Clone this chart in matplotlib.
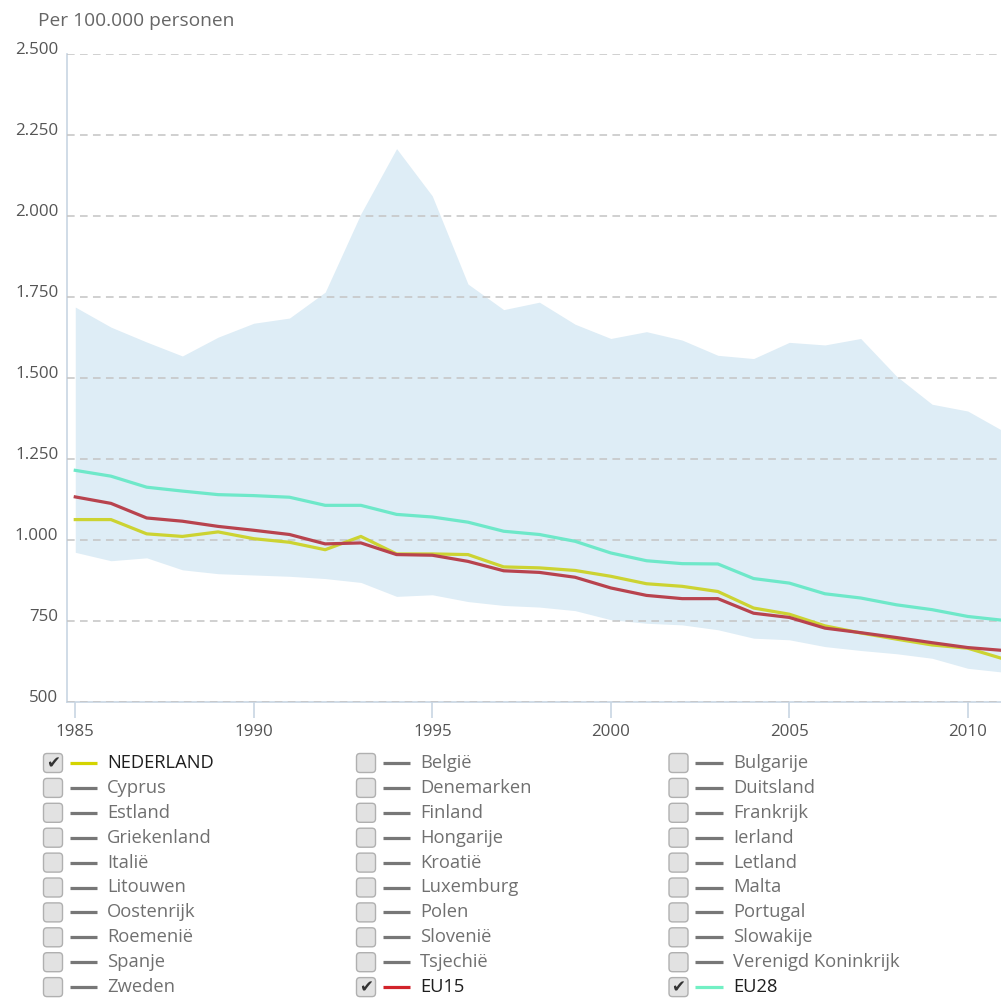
import matplotlib
matplotlib.use("Agg")
import matplotlib.pyplot as plt
from matplotlib.patches import FancyBboxPatch
from matplotlib.ticker import FuncFormatter, FixedLocator

years = list(range(1985, 2012))
band_max = [1719, 1657, 1611, 1568, 1626, 1669, 1685, 1765, 2007, 2208, 2062, 1790, 1711,
            1734, 1666, 1622, 1643, 1617, 1570, 1560, 1610, 1602, 1622, 1506, 1419, 1398, 1336]
band_min = [962, 936, 945, 908, 896, 892, 888, 881, 869, 826, 831, 810, 798,
            793, 782, 754, 743, 738, 723, 697, 692, 671, 659, 649, 635, 604, 592]
nederland = [1063, 1063, 1019, 1011, 1025, 1004, 993, 970, 1011, 957, 957, 955, 917,
             914, 906, 888, 865, 857, 841, 790, 771, 735, 713, 694, 676, 666, 633]
eu15 = [1133, 1113, 1068, 1058, 1042, 1030, 1017, 988, 991, 955, 953, 934, 905,
        900, 885, 852, 829, 819, 819, 774, 761, 728, 714, 699, 683, 668, 659]
eu28 = [1215, 1197, 1163, 1151, 1140, 1137, 1132, 1107, 1107, 1079, 1071, 1055, 1027,
        1017, 996, 960, 936, 927, 926, 881, 867, 834, 821, 800, 785, 764, 752]

y_ticks = [500, 750, 1000, 1250, 1500, 1750, 2000, 2250, 2500]
x_ticks = [1985, 1990, 1995, 2000, 2005, 2010]
title = "Per 100.000 personen"

legend_cols = [
    ["NEDERLAND", "Cyprus", "Estland", "Griekenland", "Italië", "Litouwen",
     "Oostenrijk", "Roemenië", "Spanje", "Zweden"],
    ["België", "Denemarken", "Finland", "Hongarije", "Kroatië", "Luxemburg",
     "Polen", "Slovenië", "Tsjechië", "EU15"],
    ["Bulgarije", "Duitsland", "Frankrijk", "Ierland", "Letland", "Malta",
     "Portugal", "Slowakije", "Verenigd Koninkrijk", "EU28"],
]
checked = {"NEDERLAND": "#d4d400", "EU15": "#d2232a", "EU28": "#72f0c4"}

plt.rcParams['font.family'] = ['Open Sans', 'DejaVu Sans']

W, H = 1001, 998
fig = plt.figure(figsize=(W / 100, H / 100), dpi=100)

left_px, right_px, top_px, bot_px = 66.7, 1001, 54, 702
ax = fig.add_axes([left_px / W, 1 - bot_px / H, (right_px - left_px) / W, (bot_px - top_px) / H])

ax.fill_between(years, band_min, band_max, color="#deedf6", lw=0, zorder=1)
ax.plot(years, eu28, color="#6ee8c9", lw=2.3, zorder=3, solid_joinstyle="round")
ax.plot(years, nederland, color="#ccd332", lw=2.3, zorder=4, solid_joinstyle="round")
ax.plot(years, eu15, color="#b8434e", lw=2.3, zorder=5, solid_joinstyle="round")

ax.set_xlim(1984.76, 2010.93)
ax.set_ylim(500, 2500)
ax.yaxis.set_major_locator(FixedLocator(y_ticks))
ax.xaxis.set_major_locator(FixedLocator(x_ticks))
ax.yaxis.set_major_formatter(FuncFormatter(lambda v, p: f"{int(v):,}".replace(",", ".")))
ax.grid(axis="y", color="#c4c4c4", linestyle=(0, (5, 3.5)), lw=1.1, zorder=2)
ax.set_axisbelow(False)
for s in ["top", "right"]:
    ax.spines[s].set_visible(False)
for s in ["left", "bottom"]:
    ax.spines[s].set_color("#c8d5e3")
    ax.spines[s].set_linewidth(1.2)
ax.tick_params(axis="y", length=0, pad=6, labelsize=12.2, labelcolor="#555555")
ax.tick_params(axis="x", length=11.5, width=1.2, color="#c8d5e3", pad=4, labelsize=12.2,
               labelcolor="#555555", direction="out")
for lab in ax.get_yticklabels():
    lab.set_verticalalignment("baseline")

fig.text(38 / W, 1 - 21 / H, title, fontsize=13.8, color="#666666", va="center", ha="left")

# legend overlay
lax = fig.add_axes([0, 0, 1, 1], zorder=-1)
lax.set_xlim(0, W)
lax.set_ylim(H, 0)
lax.axis("off")

col_box_x = [53, 366, 678.5]
col_line_x = [(69.5, 97), (383, 410), (695, 722.5)]
col_text_x = [107, 420, 733]
row0, dy = 763, 24.9
for c, names in enumerate(legend_cols):
    for r, name in enumerate(names):
        y = row0 + r * dy
        bx = col_box_x[c]
        lax.add_patch(FancyBboxPatch((bx - 9.5, y - 9.5), 19, 19,
                                     boxstyle="round,pad=0,rounding_size=3.5",
                                     fc="#e2e2e2", ec="#b0b0b0", lw=1.0))
        is_on = name in checked
        if is_on:
            lax.text(bx, y + 0.5, "✔", fontsize=12, color="#333333", ha="center", va="center",
                     family="DejaVu Sans")
        lc = checked.get(name, "#777777")
        x0, x1 = col_line_x[c]
        lax.plot([x0, x1], [y, y], color=lc, lw=2.3, solid_capstyle="butt")
        lax.text(col_text_x[c], y, name, fontsize=13.2,
                 color="#1e1e1e" if is_on else "#707070", ha="left", va="center")

fig.savefig("out.png", dpi=100)
